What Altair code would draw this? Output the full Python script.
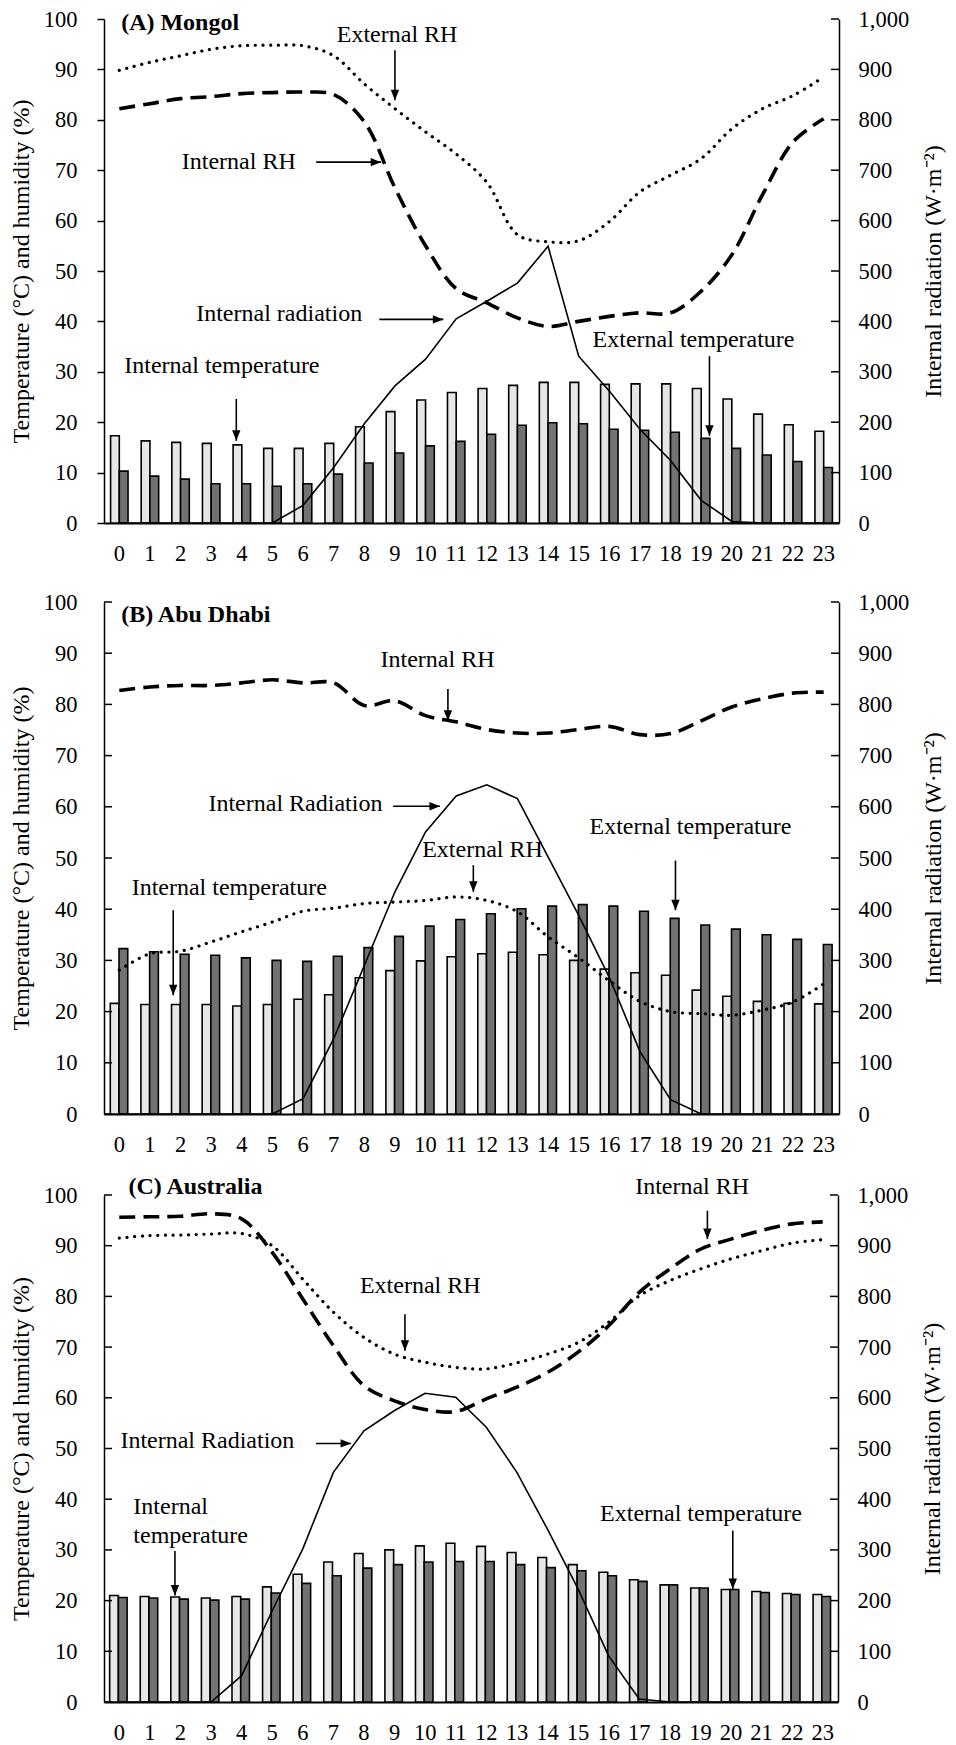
import altair as alt
import pandas as pd

HOURS = list(range(24))
TEMP_TICKS = list(range(0, 101, 10))
RAD_TICKS = list(range(0, 1001, 100))
SERIES_BARS = ["Internal temperature", "External temperature"]

# ---------------- Panel A : Mongol ----------------
A_INT_TEMP = [17.3, 16.3, 16.0, 15.8, 15.5, 14.8, 14.8, 15.8, 19.1, 22.1, 24.4, 25.9,
              26.7, 27.3, 27.9, 27.9, 27.5, 27.6, 27.6, 26.7, 24.6, 21.6, 19.5, 18.2]
A_EXT_TEMP = [10.3, 9.3, 8.7, 7.8, 7.8, 7.3, 7.8, 9.7, 11.9, 13.9, 15.3, 16.2,
              17.6, 19.4, 19.9, 19.7, 18.6, 18.4, 18.0, 16.8, 14.8, 13.5, 12.2, 11.0]
A_INT_RH = [82.2, 83.2, 84.2, 84.6, 85.2, 85.4, 85.5, 85.0, 79.6, 66.5, 55.0, 46.5,
            43.7, 40.7, 39.0, 40.0, 41.0, 41.7, 41.7, 46.0, 53.2, 65.1, 75.6, 80.2]
A_EXT_RH = [89.8, 91.4, 92.7, 94.0, 94.7, 94.8, 94.7, 92.7, 87.1, 82.2, 77.6, 73.2,
            67.6, 57.2, 55.8, 56.0, 59.8, 65.7, 69.0, 72.3, 78.2, 82.2, 84.8, 88.5]
A_RAD = [0, 0, 0, 0, 0, 0, 35, 110, 197, 272, 325, 405,
         440, 476, 549, 331, 262, 186, 124, 45, 3, 0, 0, 0]
A_TITLE = "(A) Mongol"
A_TITLE_POS = (0.06, 99.3)
A_TEXT = ["External RH", "Internal RH", "Internal radiation", "Internal temperature", "External temperature"]
A_TEXT_X = [9.07, 3.9, 5.22, 3.35, 18.75]
A_TEXT_Y = [96.8, 71.6, 41.4, 31.2, 36.4]
A_ARROW_X1 = [9.0, 6.43, 8.49, 3.82, 19.27]
A_ARROW_X2 = [9.0, 8.55, 10.58, 3.82, 19.27]
A_ARROW_Y1 = [93.8, 71.6, 40.4, 24.6, 33.1]
A_ARROW_Y2 = [83.9, 71.6, 40.4, 16.3, 17.3]
A_ARROW_DIR = ["down", "right", "right", "down", "down"]

# ---------------- Panel B : Abu Dhabi ----------------
B_INT_TEMP = [21.6, 21.4, 21.4, 21.4, 21.1, 21.4, 22.4, 23.3, 26.6, 28.0, 29.9, 30.7,
              31.3, 31.6, 31.1, 30.0, 28.3, 27.6, 27.1, 24.2, 23.0, 22.0, 21.6, 21.5]
B_EXT_TEMP = [32.3, 31.7, 31.2, 31.0, 30.5, 30.0, 29.8, 30.8, 32.5, 34.7, 36.7, 38.0,
              39.1, 40.1, 40.6, 40.9, 40.6, 39.6, 38.2, 36.9, 36.1, 35.0, 34.1, 33.1]
B_INT_RH = [82.7, 83.4, 83.7, 83.7, 84.2, 84.8, 84.2, 84.2, 79.8, 80.7, 77.8, 76.6,
            75.1, 74.4, 74.4, 75.1, 75.7, 74.1, 74.3, 76.8, 79.5, 81.1, 82.2, 82.4]
B_EXT_RH = [28.1, 31.3, 31.8, 33.6, 35.6, 37.5, 39.6, 40.2, 41.1, 41.4, 41.7, 42.4,
            41.7, 39.5, 34.6, 30.5, 26.0, 22.0, 20.0, 19.6, 19.3, 20.3, 21.9, 25.4]
B_RAD = [0, 0, 0, 0, 0, 0, 30, 147, 290, 434, 551, 621,
         643, 616, 502, 388, 267, 122, 28, 0, 0, 0, 0, 0]
B_TITLE = "(B) Abu Dhabi"
B_TITLE_POS = (0.06, 97.5)
B_TEXT = ["Internal RH", "Internal Radiation", "External RH", "Internal temperature", "External temperature"]
B_TEXT_X = [10.39, 5.75, 11.86, 3.59, 18.65]
B_TEXT_Y = [88.6, 60.6, 51.5, 44.1, 56.0]
B_ARROW_X1 = [10.73, 8.94, 11.56, 1.76, 18.16]
B_ARROW_X2 = [10.73, 10.47, 11.56, 1.76, 18.16]
B_ARROW_Y1 = [83.0, 60.1, 48.6, 39.8, 49.5]
B_ARROW_Y2 = [76.8, 60.1, 43.4, 23.2, 39.8]
B_ARROW_DIR = ["down", "right", "down", "down", "down"]

# ---------------- Panel C : Australia ----------------
C_INT_TEMP = [21.0, 20.8, 20.7, 20.5, 20.8, 22.7, 25.2, 27.6, 29.3, 30.0, 30.8, 31.3,
              30.7, 29.5, 28.5, 27.1, 25.6, 24.1, 23.1, 22.5, 22.2, 21.8, 21.4, 21.2]
C_EXT_TEMP = [20.6, 20.5, 20.3, 20.1, 20.3, 21.5, 23.4, 24.9, 26.4, 27.1, 27.6, 27.7,
              27.7, 27.1, 26.5, 25.9, 24.9, 23.8, 23.1, 22.5, 22.2, 21.6, 21.2, 20.8]
C_INT_RH = [95.6, 95.7, 95.8, 96.3, 95.3, 88.7, 79.5, 70.3, 62.4, 59.4, 57.7, 57.3,
            59.8, 62.1, 65.0, 69.0, 74.2, 80.8, 85.4, 89.3, 91.3, 93.0, 94.3, 94.7]
C_EXT_RH = [91.5, 92.0, 92.1, 92.3, 92.4, 90.0, 83.4, 76.9, 71.9, 68.6, 67.0, 66.0,
            65.7, 66.9, 68.6, 70.9, 74.9, 80.1, 83.1, 85.4, 87.4, 89.0, 90.5, 91.2]
C_RAD = [0, 0, 0, 0, 52, 180, 302, 453, 535, 575, 609, 601,
         542, 453, 341, 223, 91, 6, 0, 0, 0, 0, 0, 0]
C_TITLE = "(C) Australia"
C_TITLE_POS = (0.3, 101.6)
C_TEXT = ["External RH", "Internal RH", "Internal Radiation", "External temperature"]
C_TEXT_X = [9.84, 18.73, 2.88, 19.02]
C_TEXT_Y = [82.1, 101.6, 51.5, 37.1]
C_LTEXT = ["Internal", "temperature"]
C_LTEXT_X = [0.46, 0.46]
C_LTEXT_Y = [38.4, 32.8]
C_ARROW_X1 = [9.34, 19.23, 6.43, 1.82, 20.06]
C_ARROW_X2 = [9.34, 19.23, 7.58, 1.82, 20.06]
C_ARROW_Y1 = [76.5, 96.9, 51.0, 29.8, 33.8]
C_ARROW_Y2 = [69.3, 91.3, 51.0, 21.0, 22.3]
C_ARROW_DIR = ["down", "down", "right", "down", "down"]

FONT = "Liberation Serif"
LIGHT = "#e6e6e6"
DARK = "#747174"
HEAD_DOWN = "M-0.8,-2L0.8,-2L0,0Z"
HEAD_RIGHT = "M-2,-0.8L-2,0.8L0,0Z"
TICK_RIGHTWARD = "M0,0L1,0"
TICK_LEFTWARD = "M0,0L-1,0"
TXT = 24
LBL = 22.5


def panel(int_temp, ext_temp, int_rh, ext_rh, rad, title, title_pos,
          texts, tx, ty, ax1, ax2, ay1, ay2, adir, width, height, pad_inner,
          left_outward, ltexts=None, ltx=None, lty=None):
    xq = alt.Scale(domain=[-0.5, 23.5], nice=False, zero=False)

    def yT():
        return alt.Scale(domain=[0, 100], nice=False, zero=False)

    bars_df = pd.DataFrame({
        "hour": HOURS * 2,
        "series": [SERIES_BARS[0]] * 24 + [SERIES_BARS[1]] * 24,
        "value": int_temp + ext_temp,
    })
    left_axis = alt.Axis(
        values=TEMP_TICKS, title="Temperature (\u00b0C) and humidity (%)",
        grid=False, domainColor="black", domainWidth=1.5,
        ticks=left_outward, tickSize=7 if left_outward else 0,
        tickColor="black", tickWidth=1.5,
        labelFontSize=LBL, labelColor="black", labelPadding=20 if left_outward else 27,
        titleFontSize=TXT, titleFontWeight="normal", titleColor="black", titlePadding=10,
    )
    bars = alt.Chart(bars_df).mark_bar(stroke="black", strokeWidth=1.6).encode(
        x=alt.X("hour:O", scale=alt.Scale(paddingInner=pad_inner, paddingOuter=pad_inner / 2),
                axis=alt.Axis(title=None, labelAngle=0, ticks=False, tickSize=0,
                              labelPadding=19, labelFontSize=LBL, labelColor="black",
                              domainColor="black", domainWidth=1.8, grid=False)),
        xOffset=alt.XOffset("series:N", sort=SERIES_BARS,
                            scale=alt.Scale(paddingInner=0, paddingOuter=0)),
        y=alt.Y("value:Q", scale=yT(), axis=left_axis),
        fill=alt.Fill("series:N", scale=alt.Scale(domain=SERIES_BARS, range=[LIGHT, DARK]), legend=None),
    )

    int_df = pd.DataFrame({"hour": HOURS, "value": int_rh})
    ext_df = pd.DataFrame({"hour": HOURS, "value": ext_rh})
    rad_df = pd.DataFrame({"hour": HOURS, "value": rad})

    int_line = alt.Chart(int_df).mark_line(color="black", strokeWidth=3.6, strokeDash=[16, 8],
                                           interpolate="catmull-rom").encode(
        x=alt.X("hour:Q", scale=xq, axis=None),
        y=alt.Y("value:Q", scale=yT(), axis=None))
    ext_line = alt.Chart(ext_df).mark_line(color="black", strokeWidth=3.2, strokeDash=[0.1, 7.6],
                                           strokeCap="round", interpolate="catmull-rom").encode(
        x=alt.X("hour:Q", scale=xq, axis=None),
        y=alt.Y("value:Q", scale=yT(), axis=None))
    rad_line = alt.Chart(rad_df).mark_line(color="black", strokeWidth=1.6).encode(
        x=alt.X("hour:Q", scale=xq, axis=None),
        y=alt.Y("value:Q", scale=alt.Scale(domain=[0, 1000], nice=False, zero=False),
                axis=alt.Axis(orient="right", values=RAD_TICKS, format=",d", grid=False,
                              ticks=False, tickSize=0, labelPadding=19, labelFontSize=LBL,
                              labelColor="black", domainColor="black", domainWidth=1.5,
                              title="Internal radiation (W\u00b7m\u207b\u00b2)",
                              titleFontSize=TXT, titleFontWeight="normal", titleColor="black",
                              titleAngle=270, titleBaseline="top", titlePadding=13)))

    text_df = pd.DataFrame({"label": texts, "hx": tx, "v": ty})
    text_layer = alt.Chart(text_df).mark_text(font=FONT, fontSize=TXT, color="black",
                                              align="center", baseline="middle").encode(
        x=alt.X("hx:Q", scale=xq, axis=None),
        y=alt.Y("v:Q", scale=yT(), axis=None),
        text="label:N")

    title_df = pd.DataFrame({"label": [title], "hx": [title_pos[0]], "v": [title_pos[1]]})
    title_layer = alt.Chart(title_df).mark_text(font=FONT, fontSize=TXT, fontWeight="bold",
                                                color="black", align="left", baseline="middle").encode(
        x=alt.X("hx:Q", scale=xq, axis=None),
        y=alt.Y("v:Q", scale=yT(), axis=None),
        text="label:N")

    arrow_df = pd.DataFrame({"x1": ax1, "x2": ax2, "y1": ay1, "y2": ay2, "dir": adir})
    arrows = alt.Chart(arrow_df).mark_rule(color="black", strokeWidth=1.6).encode(
        x=alt.X("x1:Q", scale=xq, axis=None), x2="x2:Q",
        y=alt.Y("y1:Q", scale=yT(), axis=None), y2="y2:Q")
    heads = alt.Chart(arrow_df).mark_point(filled=True, color="black", size=110, opacity=1).encode(
        x=alt.X("x2:Q", scale=xq, axis=None),
        y=alt.Y("y2:Q", scale=yT(), axis=None),
        shape=alt.Shape("dir:N", scale=alt.Scale(domain=["down", "right"], range=[HEAD_DOWN, HEAD_RIGHT]),
                        legend=None))

    tick_df = pd.DataFrame({"v": TEMP_TICKS})
    right_ticks = alt.Chart(tick_df).mark_point(shape=TICK_LEFTWARD, size=256, filled=False,
                                                stroke="black", strokeWidth=1.5, opacity=1).encode(
        x=alt.value(width), y=alt.Y("v:Q", scale=yT(), axis=None))
    layers = [bars, int_line, ext_line, rad_line, text_layer, title_layer, arrows, heads, right_ticks]
    if not left_outward:
        left_ticks = alt.Chart(tick_df).mark_point(shape=TICK_RIGHTWARD, size=256, filled=False,
                                                   stroke="black", strokeWidth=1.5, opacity=1).encode(
            x=alt.value(0), y=alt.Y("v:Q", scale=yT(), axis=None))
        layers.append(left_ticks)
    if ltexts:
        lt_df = pd.DataFrame({"label": ltexts, "hx": ltx, "v": lty})
        layers.append(alt.Chart(lt_df).mark_text(font=FONT, fontSize=TXT, color="black",
                                                 align="left", baseline="middle").encode(
            x=alt.X("hx:Q", scale=xq, axis=None),
            y=alt.Y("v:Q", scale=yT(), axis=None),
            text="label:N"))
    return alt.layer(*layers).resolve_scale(x="independent", y="independent", shape="independent").properties(
        width=width, height=height)


pA = panel(A_INT_TEMP, A_EXT_TEMP, A_INT_RH, A_EXT_RH, A_RAD, A_TITLE, A_TITLE_POS,
           A_TEXT, A_TEXT_X, A_TEXT_Y, A_ARROW_X1, A_ARROW_X2, A_ARROW_Y1, A_ARROW_Y2, A_ARROW_DIR,
           735, 504, 0.43, True)
pB = panel(B_INT_TEMP, B_EXT_TEMP, B_INT_RH, B_EXT_RH, B_RAD, B_TITLE, B_TITLE_POS,
           B_TEXT, B_TEXT_X, B_TEXT_Y, B_ARROW_X1, B_ARROW_X2, B_ARROW_Y1, B_ARROW_Y2, B_ARROW_DIR,
           735, 512, 0.41, False)
pC = panel(C_INT_TEMP, C_EXT_TEMP, C_INT_RH, C_EXT_RH, C_RAD, C_TITLE, C_TITLE_POS,
           C_TEXT, C_TEXT_X, C_TEXT_Y, C_ARROW_X1, C_ARROW_X2, C_ARROW_Y1, C_ARROW_Y2, C_ARROW_DIR,
           734, 507, 0.37, False, C_LTEXT, C_LTEXT_X, C_LTEXT_Y)

top_two = alt.vconcat(pA, pB, spacing=26)
chart = alt.vconcat(top_two, pC, spacing=18).properties(
    padding={"left": 1, "top": 0, "right": 0, "bottom": 0}
).configure(font=FONT).configure_view(strokeWidth=0)

chart.save("out.html", embed_options={"renderer": "svg", "actions": False})
